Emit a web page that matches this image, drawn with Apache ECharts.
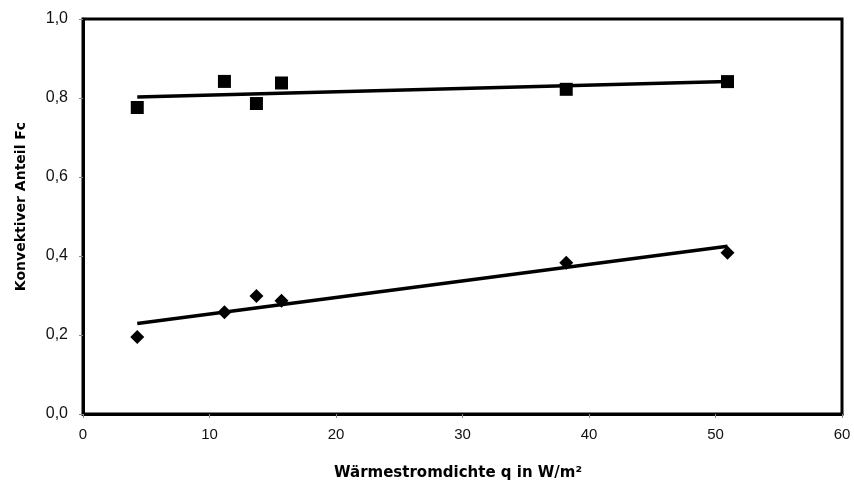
<!DOCTYPE html>
<html>
<head>
<meta charset="utf-8">
<script src="https://cdn.jsdelivr.net/npm/echarts@6/dist/echarts.min.js"></script>
<style>html,body{margin:0;padding:0;background:#fff}#c{width:854px;height:487px}</style>
</head>
<body>
<div id="c"></div>
<script>
// Data
var qValues = [4.29, 11.18, 13.71, 15.69, 38.2, 50.95];
var fcUpper = [0.776, 0.842, 0.786, 0.838, 0.822, 0.8415];
var fcLower = [0.195, 0.2575, 0.299, 0.287, 0.383, 0.408];
var xTicks = [0, 10, 20, 30, 40, 50, 60];
var yTicks = [0, 0.2, 0.4, 0.6, 0.8, 1.0];

function pairs(xs, ys) { return xs.map(function (x, i) { return [x, ys[i]]; }); }
function trend(xs, ys) {
  var n = xs.length, mx = 0, my = 0;
  for (var i = 0; i < n; i++) { mx += xs[i]; my += ys[i]; }
  mx /= n; my /= n;
  var sxy = 0, sxx = 0;
  for (var j = 0; j < n; j++) { sxy += (xs[j] - mx) * (ys[j] - my); sxx += (xs[j] - mx) * (xs[j] - mx); }
  var b = sxy / sxx, a = my - b * mx;
  var x0 = Math.min.apply(null, xs), x1 = Math.max.apply(null, xs);
  return [[x0, a + b * x0], [x1, a + b * x1]];
}

var chart = echarts.init(document.getElementById('c'));
var font = 'Liberation Sans, Arial, sans-serif';
var boldFont = 'DejaVu Sans, sans-serif';
chart.setOption({
  animation: false,
  grid: { left: 83, top: 19, right: 12, bottom: 73, show: true, borderColor: '#000', borderWidth: 3, backgroundColor: '#fff' },
  xAxis: {
    type: 'value', min: xTicks[0], max: xTicks[xTicks.length - 1], interval: 10,
    name: 'Wärmestromdichte q in W/m²', nameLocation: 'middle', nameGap: 52,
    nameTextStyle: { fontFamily: boldFont, fontWeight: 'bold', fontSize: 15, color: '#000', padding: [0, 9, 0, 0] },
    axisLine: { show: true, lineStyle: { color: '#000', width: 3 } },
    axisTick: { show: true, length: 4, inside: false, lineStyle: { color: '#888', width: 1 } },
    axisLabel: { fontFamily: font, fontSize: 15, color: '#111', margin: 13 },
    splitLine: { show: false }
  },
  yAxis: {
    type: 'value', min: yTicks[0], max: yTicks[yTicks.length - 1], interval: 0.2,
    name: 'Konvektiver Anteil Fc', nameLocation: 'middle', nameGap: 55,
    nameTextStyle: { fontFamily: boldFont, fontWeight: 'bold', fontSize: 14, color: '#000', padding: [0, 0, 0, 20] },
    axisLine: { show: true, lineStyle: { color: '#000', width: 3 } },
    axisTick: { show: true, length: 4, lineStyle: { color: '#888', width: 1 } },
    axisLabel: { fontFamily: font, fontSize: 16, color: '#111', margin: 15,
      formatter: function (v) { return v.toFixed(1).replace('.', ','); } },
    splitLine: { show: false }
  },
  series: [
    { type: 'line', data: trend(qValues, fcUpper), showSymbol: false, symbol: 'none',
      lineStyle: { color: '#000', width: 3.5 }, z: 2 },
    { type: 'line', data: trend(qValues, fcLower), showSymbol: false, symbol: 'none',
      lineStyle: { color: '#000', width: 3.5 }, z: 2 },
    { type: 'scatter', data: pairs(qValues, fcUpper), symbol: 'rect', symbolSize: 13,
      itemStyle: { color: '#000', opacity: 1 }, z: 3 },
    { type: 'scatter', data: pairs(qValues, fcLower), symbol: 'diamond', symbolSize: 14,
      itemStyle: { color: '#000', opacity: 1 }, z: 3 }
  ]
});
</script>
</body>
</html>
